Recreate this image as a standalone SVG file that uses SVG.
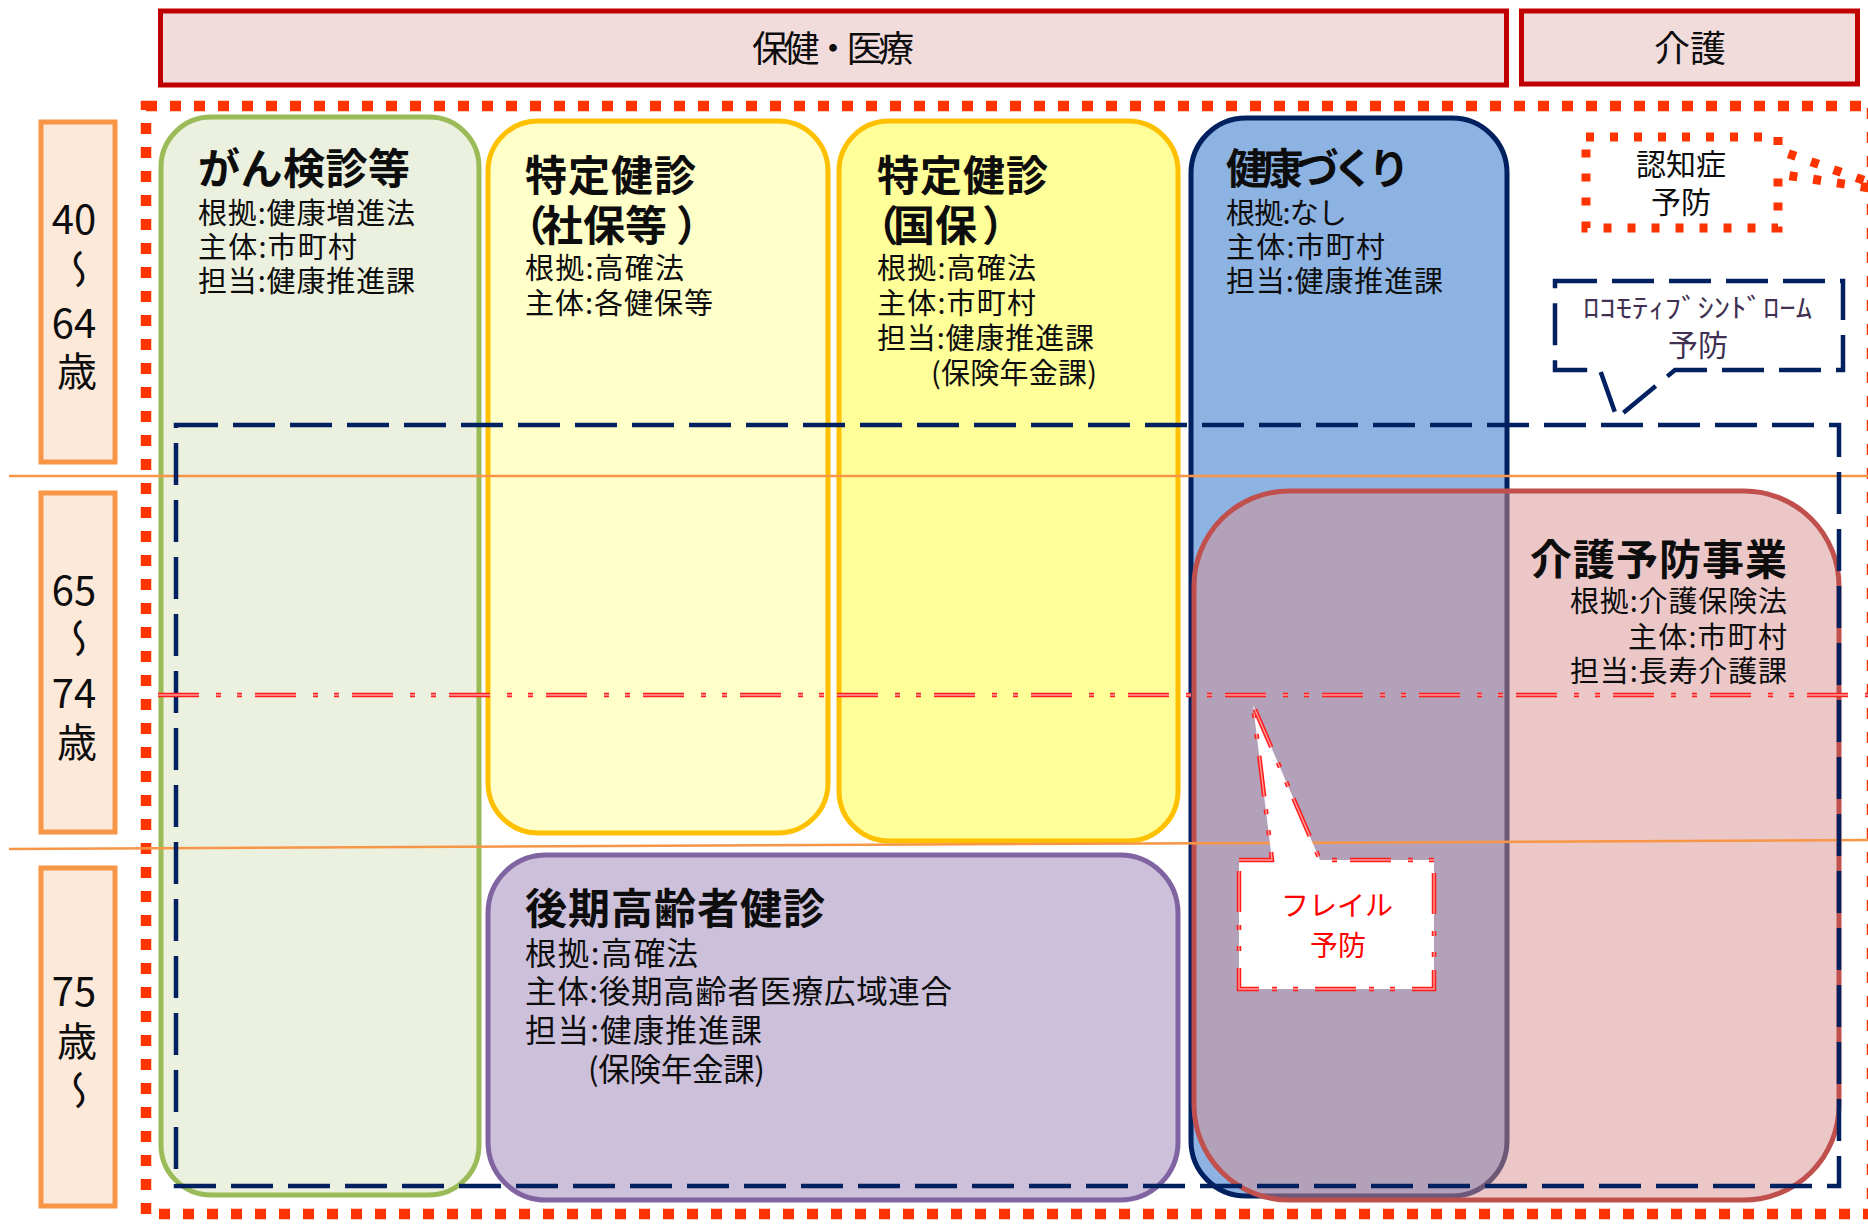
<svg xmlns="http://www.w3.org/2000/svg" width="1868" height="1224" viewBox="0 0 1868 1224">
<style>
text{font-family:"Noto Sans CJK JP","Noto Sans CJK SC",sans-serif;fill:#0d0d0d}
.hdr{fill:#F2DCDB;stroke:#C00000;stroke-width:5}
.age{fill:#FDE9D9;stroke:#F79646;stroke-width:5}
.hdrt{font-size:36px;text-anchor:middle}
.aget{font-size:40px;text-anchor:middle}
.ttl{font-size:42px;font-weight:700}
.sub{font-size:29px}
.sub2{font-size:31.5px}
.sep{stroke:#F79646;stroke-width:2.5;fill:none}
.dd{stroke:#FF1E1E;stroke-width:4.5;fill:none;stroke-dasharray:41 17 5 16 5 13}
.dd2{stroke:#FF9C9C;stroke-width:1.4;fill:none;stroke-dasharray:41 17 5 16 5 13}
.navy{stroke:#002060;stroke-width:4.5;fill:none;stroke-dasharray:42 15}
.dots{stroke:#FF3300;fill:none}
</style>
<rect width="1868" height="1224" fill="#fff"/>

<g id="header-hoken">
<rect class="hdr" x="160.5" y="11" width="1346" height="74"/>
<text class="hdrt" x="833" y="62" textLength="162">保健・医療</text>
</g>
<g id="header-kaigo">
<rect class="hdr" x="1521.5" y="11" width="336" height="73"/>
<text class="hdrt" x="1690" y="62">介護</text>
</g>

<g id="age-40-64">
<rect class="age" x="41" y="122" width="74" height="340"/>
<text class="aget" x="74" y="234">40</text>
<text class="aget" transform="translate(77,269) rotate(90) scale(1,-1)" dominant-baseline="central">〜</text>
<text class="aget" x="74" y="338">64</text>
<text class="aget" x="77" y="386" font-size="42">歳</text>
</g>
<g id="age-65-74">
<rect class="age" x="41" y="493" width="74" height="339"/>
<text class="aget" x="74" y="605">65</text>
<text class="aget" transform="translate(77,638) rotate(90) scale(1,-1)" dominant-baseline="central">〜</text>
<text class="aget" x="74" y="708">74</text>
<text class="aget" x="77" y="757" font-size="42">歳</text>
</g>
<g id="age-75">
<rect class="age" x="41" y="868" width="74" height="338"/>
<text class="aget" x="74" y="1006">75</text>
<text class="aget" x="77" y="1056" font-size="42">歳</text>
<text class="aget" transform="translate(77,1090) rotate(90) scale(1,-1)" dominant-baseline="central">〜</text>
</g>

<g id="outer-frame">
<rect class="dots" x="146" y="106" width="1726" height="1108" stroke-width="10.5" stroke-dasharray="11 13"/>
</g>

<g id="node-gan">
<rect x="161" y="117" width="318" height="1078" rx="50" fill="#EBF1DE" stroke="#9BBB59" stroke-width="5"/>
<text class="ttl" x="198" y="184" textLength="212">がん検診等</text>
<text class="sub" x="198" y="224" textLength="217">根拠:健康増進法</text>
<text class="sub" x="198" y="258" textLength="159">主体:市町村</text>
<text class="sub" x="198" y="292" textLength="217">担当:健康推進課</text>
</g>

<g id="node-tokutei-shaho">
<rect x="488" y="121" width="340" height="712" rx="50" fill="#FFFFC9" stroke="#FFC000" stroke-width="5"/>
<text class="ttl" x="525" y="191" textLength="171">特定健診</text>
<text class="ttl" y="241"><tspan x="505">（</tspan><tspan x="541">社保等</tspan><tspan x="676">）</tspan></text>
<text class="sub" x="525" y="279" textLength="159">根拠:高確法</text>
<text class="sub" x="525" y="314" textLength="188">主体:各健保等</text>
</g>

<g id="node-tokutei-kokuho">
<rect x="839" y="121" width="339" height="720" rx="50" fill="#FFFF99" stroke="#FFC000" stroke-width="5"/>
<text class="ttl" x="877" y="191" textLength="171">特定健診</text>
<text class="ttl" y="241"><tspan x="857">（</tspan><tspan x="893">国保</tspan><tspan x="982">）</tspan></text>
<text class="sub" x="877" y="279" textLength="159">根拠:高確法</text>
<text class="sub" x="877" y="314" textLength="159">主体:市町村</text>
<text class="sub" x="877" y="349" textLength="217">担当:健康推進課</text>
<text class="sub" x="931" y="384" textLength="166">(保険年金課)</text>
</g>

<g id="node-kenkozukuri">
<rect x="1191" y="118" width="316" height="1078" rx="55" fill="#8DB3E2" stroke="#002060" stroke-width="5"/>
<text class="ttl" x="1226" y="184" textLength="184">健康づくり</text>
<text class="sub" x="1226" y="224" textLength="121">根拠:なし</text>
<text class="sub" x="1226" y="258" textLength="159">主体:市町村</text>
<text class="sub" x="1226" y="292" textLength="217">担当:健康推進課</text>
</g>

<g id="node-kouki">
<rect x="488" y="855" width="690" height="345" rx="58" fill="#CCC0DA" stroke="#8064A2" stroke-width="5"/>
<text class="ttl" x="525" y="924" textLength="300">後期高齢者健診</text>
<text class="sub2" x="525" y="965" textLength="173">根拠:高確法</text>
<text class="sub2" x="525" y="1003" textLength="427">主体:後期高齢者医療広域連合</text>
<text class="sub2" x="525" y="1042" textLength="237">担当:健康推進課</text>
<text class="sub2" x="588" y="1081" textLength="177">(保険年金課)</text>
</g>

<g id="connectors">
<line class="sep" x1="9" y1="476" x2="1868" y2="476"/>
</g>

<g id="node-kaigoyobo">
<rect x="1194" y="491" width="645" height="709" rx="95" fill="#D98F8F" fill-opacity="0.5" stroke="#C0504D" stroke-width="5"/>
<text class="ttl" x="1787" y="575" text-anchor="end" textLength="257">介護予防事業</text>
<text class="sub" x="1787" y="612" text-anchor="end" textLength="217">根拠:介護保険法</text>
<text class="sub" x="1787" y="648" text-anchor="end" textLength="159">主体:市町村</text>
<text class="sub" x="1787" y="682" text-anchor="end" textLength="217">担当:長寿介護課</text>
</g>

<g id="age-lines">
<line class="sep" x1="9" y1="849" x2="1868" y2="840"/>
</g>

<g id="range-dashed">
<rect class="navy" x="176" y="425" width="1663" height="761"/>
</g>

<g id="line-74">
<line class="dd" x1="158" y1="695" x2="1868" y2="695"/>
<line class="dd2" x1="158" y1="695" x2="1868" y2="695"/>
</g>

<g id="callout-ninchisho">
<path class="dots" d="M1586,137 H1778 V150 L1897,192 L1778,174 V228 H1586 Z" fill="#fff" stroke-width="9" stroke-dasharray="8 16"/>
<text x="1681" y="175" font-size="30" text-anchor="middle">認知症</text>
<text x="1681" y="213" font-size="30" text-anchor="middle">予防</text>
</g>

<g id="callout-locomo">
<path class="navy" d="M1555,281 H1843 V370 H1675 L1617,418 L1600,370 H1555 Z" fill="#fff" stroke-width="4" stroke-dasharray="40 16"/>
<text x="1583" y="318" font-size="27" style="fill:#403152" textLength="229" lengthAdjust="spacingAndGlyphs">ﾛｺﾓﾃｨﾌﾞｼﾝﾄﾞﾛｰﾑ</text>
<text x="1698" y="356" font-size="30" text-anchor="middle" style="fill:#403152">予防</text>
</g>

<g id="callout-frail">
<path d="M1239,860 H1272 L1253,705 L1320,860 H1434 V989 H1239 Z" fill="#fff"/>
<path class="dd" d="M1239,860 H1272 L1253,705 L1320,860 H1434 V989 H1239 Z"/>
<path class="dd2" d="M1239,860 H1272 L1253,705 L1320,860 H1434 V989 H1239 Z"/>
<text x="1337" y="916" font-size="28" text-anchor="middle" style="fill:#FF0000">フレイル</text>
<text x="1338" y="956" font-size="28" text-anchor="middle" style="fill:#FF0000">予防</text>
</g>
</svg>
